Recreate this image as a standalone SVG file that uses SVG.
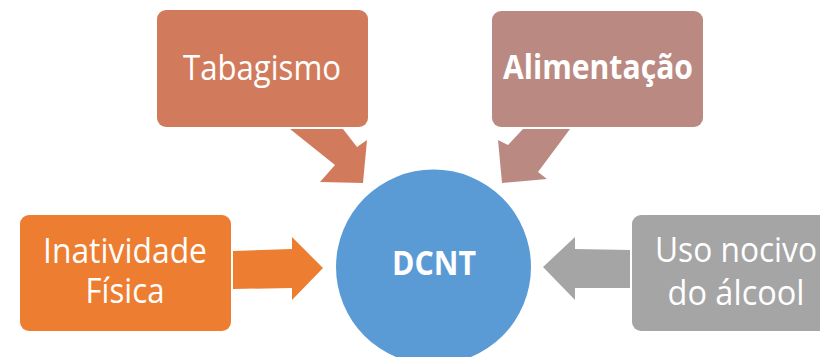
<svg xmlns="http://www.w3.org/2000/svg" width="820" height="357" viewBox="0 0 820 357">
<style>
.lbl{font-family:"Open Sans","Noto Sans","Liberation Sans",sans-serif;font-size:34px;fill:#ffffff;text-anchor:middle}
.b{font-weight:bold}
</style>
<rect width="820" height="357" fill="#ffffff"/>
<g id="connectors">
<polygon fill="#D27B5C" points="290,129 343,129 357,147 367,140 363,183 320,182 335,165"/>
<polygon fill="#BA8A82" points="523,129 570,129 538,172 547,179 502,183 498,140 508,145"/>
<polygon fill="#ED7D31" points="233,251 292,249 292,237 323,268 292,300 292,288 233,289"/>
<polygon fill="#A5A5A5" points="630,250 575,249 575,237 543,267 575,300 575,288 630,288"/>
</g>
<g id="node-tabagismo">
<rect x="157" y="10" width="211" height="117" rx="9" fill="#D27B5C"/>
<text class="lbl" x="262" y="80" textLength="158" lengthAdjust="spacingAndGlyphs">Tabagismo</text>
</g>
<g id="node-alimentacao">
<rect x="492" y="11" width="211" height="116" rx="9" fill="#BA8A82"/>
<text class="lbl b" x="598" y="79" textLength="190" lengthAdjust="spacingAndGlyphs">Alimentação</text>
</g>
<g id="node-inatividade">
<rect x="20" y="215" width="211" height="116" rx="9" fill="#ED7D31"/>
<text class="lbl" x="125" y="263" textLength="164" lengthAdjust="spacingAndGlyphs">Inatividade</text>
<text class="lbl" x="125" y="303" textLength="79" lengthAdjust="spacingAndGlyphs">Física</text>
</g>
<g id="node-alcool">
<rect x="632" y="215" width="211" height="116" rx="9" fill="#A5A5A5"/>
<text class="lbl" x="736" y="262" textLength="162" lengthAdjust="spacingAndGlyphs">Uso nocivo</text>
<text class="lbl" x="736" y="305" textLength="137" lengthAdjust="spacingAndGlyphs">do álcool</text>
</g>
<g id="node-dcnt">
<circle cx="433.5" cy="267" r="97.5" fill="#5B9BD5"/>
<text class="lbl b" x="434" y="275" textLength="84" lengthAdjust="spacingAndGlyphs">DCNT</text>
</g>
</svg>
